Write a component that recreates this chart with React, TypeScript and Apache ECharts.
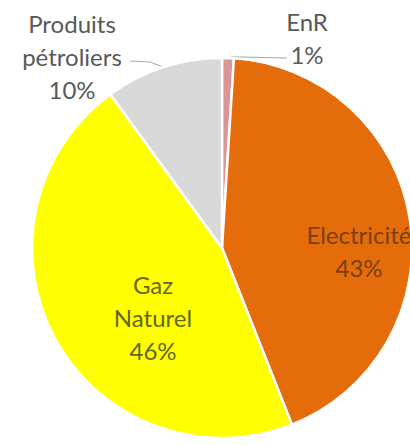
import React, { useEffect, useRef } from "react";
import * as echarts from "echarts";

const categories = ["EnR", "Electricité", "Gaz\nNaturel", "Produits\npétroliers"];
const values = [1, 43, 46, 10];
const colors = ["#D99694", "#E46C0A", "#FFFF00", "#D9D9D9"];
const labelColors = ["#595959", "#7a3f0c", "#66661c", "#595959"];

export default function App() {
  const ref = useRef<HTMLDivElement>(null);
  useEffect(() => {
    if (!ref.current) return;
    const chart = echarts.init(ref.current, undefined, { renderer: "svg" });
    const labelPos = [
      [307, 38],
      [359, 251],
      [153, 317],
      [72, 56],
    ];
    const linePts: any = {
      0: [[231, 57], [240, 57], [287, 58]],
      3: [[163, 67], [150, 62], [130, 61]],
    };
    chart.setOption({
      animation: false,
      backgroundColor: "#ffffff",
      series: [
        {
          type: "pie",
          center: [222, 248],
          radius: 190,
          startAngle: 90,
          clockwise: true,
          avoidLabelOverlap: false,
          itemStyle: { borderColor: "#ffffff", borderWidth: 2.5 },
          label: {
            show: true,
            position: "outside",
            fontFamily: "Lato",
            fontSize: 24,
            lineHeight: 33,
            align: "center",
            formatter: (p: any) => `${p.name}\n${Math.round(p.percent)}%`,
          },
          labelLine: {
            show: true,
            length: 10,
            length2: 10,
            lineStyle: { color: "#a6a6a6", width: 1 },
          },
          labelLayout: (p: any) => {
            const pos = labelPos[p.dataIndex];
            const res: any = { x: pos[0], y: pos[1], align: "center", verticalAlign: "middle" };
            if (linePts[p.dataIndex]) res.labelLinePoints = linePts[p.dataIndex];
            return res;
          },
          data: categories.map((c, i) => ({
            name: c,
            value: values[i],
            itemStyle: { color: colors[i] },
            label: { color: labelColors[i] },
            labelLine: { show: i === 0 || i === 3 },
          })),
        },
      ],
    });
    return () => chart.dispose();
  }, []);
  return (
    <div
      ref={ref}
      style={{ position: "fixed", left: 0, top: 0, width: 410, height: 445 }}
    />
  );
}
